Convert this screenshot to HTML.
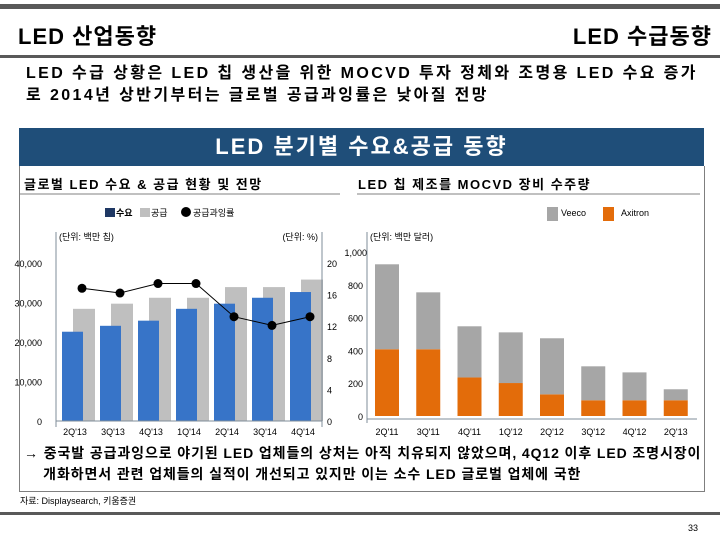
<!DOCTYPE html>
<html><head><meta charset="utf-8">
<style>
body{margin:0;width:720px;height:540px;background:#fff;position:relative;overflow:hidden;font-family:"Liberation Sans","Noto Sans CJK KR",sans-serif;}
.abs{position:absolute;white-space:nowrap;}
</style></head><body>
<div class="abs" style="left:0;top:4px;width:720px;height:5px;background:#595959"></div>
<div class="abs" style="left:18px;top:19px;font-size:22px;font-weight:bold;letter-spacing:1px;">LED 산업동향</div>
<div class="abs" style="right:8px;top:19px;font-size:22px;font-weight:bold;letter-spacing:1px;">LED 수급동향</div>
<div class="abs" style="left:0;top:55px;width:720px;height:3px;background:#595959"></div>
<div class="abs" style="left:26px;top:63px;font-size:16px;font-weight:bold;line-height:22px;letter-spacing:2.4px;">LED 수급 상황은 LED 칩 생산을 위한 MOCVD 투자 정체와 조명용 LED 수요 증가<br>로 2014년 상반기부터는 글로벌 공급과잉률은 낮아질 전망</div>
<div class="abs" style="left:19px;top:128px;width:685px;height:38px;background:#1f4e79;color:#fff;font-size:22px;font-weight:bold;letter-spacing:2px;text-align:center;line-height:38px;">LED 분기별 수요&amp;공급 동향</div>
<div class="abs" style="left:19px;top:166px;width:684px;height:325px;border:1px solid #7f7f7f;border-top:none;"></div>
<svg class="abs" style="left:0;top:0" width="720" height="540" font-family="Liberation Sans, Noto Sans CJK KR, sans-serif">
<text x="24" y="189" font-size="13" font-weight="bold" letter-spacing="1.5">글로벌 LED 수요 &amp; 공급 현황 및 전망</text>
<line x1="20" y1="194" x2="340" y2="194" stroke="#808080"/>
<text x="358" y="189" font-size="13" font-weight="bold" letter-spacing="1.5">LED 칩 제조를  MOCVD 장비 수주량</text>
<line x1="357" y1="194" x2="700" y2="194" stroke="#808080"/>
<g id="left"></g><g id="right"></g>
</svg>
<div class="abs" style="left:24px;top:443px;font-size:14px;font-weight:bold;line-height:21px;letter-spacing:0.9px;">→ 중국발 공급과잉으로 야기된 LED 업체들의 상처는 아직 치유되지 않았으며, 4Q12 이후 LED 조명시장이<br>&nbsp;&nbsp;&nbsp;&nbsp;개화하면서 관련 업체들의 실적이 개선되고 있지만 이는 소수 LED 글로벌 업체에 국한</div>
<div class="abs" style="left:20px;top:494px;font-size:9px;">자료: Displaysearch, 키움증권</div>
<div class="abs" style="left:0;top:512px;width:720px;height:3px;background:#595959"></div>
<div class="abs" style="left:688px;top:523px;font-size:9px;">33</div>
<script>
const leftCats=["2Q'13","3Q'13","4Q'13","1Q'14","2Q'14","3Q'14","4Q'14"];
const demand=[22600,24100,25400,28400,29700,31200,32650];
const supply=[28400,29700,31200,31200,33900,33900,35800];
const oversupply=[16.8,16.2,17.4,17.4,13.2,12.1,13.2];
const leftTicks=[0,10000,20000,30000,40000];
const rightTicks=[0,4,8,12,16,20];
const rightCats=["2Q'11","3Q'11","4Q'11","1Q'12","2Q'12","3Q'12","4Q'12","2Q'13"];
const axitron=[407,407,235,201,132,96,96,96];
const veeco=[518,347,312,309,342,207,170,67];
const mTicks=[0,200,400,600,800,1000];
const NS='http://www.w3.org/2000/svg';
function mk(p,t,a,txt){const e=document.createElementNS(NS,t);for(const k in a)e.setAttribute(k,a[k]);if(txt!==undefined)e.textContent=txt;p.appendChild(e);return e;}
const fmt=v=>v.toLocaleString('en-US');
const L=document.getElementById('left');
const x0=56,x1=322,y0=421,yTop=263;
const yL=v=>y0-(v/40000)*(y0-yTop), yR=v=>y0-(v/20)*(y0-yTop);
const gw=(x1-x0)/leftCats.length;
let e;
e=mk(L,'rect',{x:105,y:208,width:10,height:9,fill:'#1f3864'});

e=mk(L,'text',{x:116,y:216,'font-size':9,'font-weight':'bold'},'수요');

e=mk(L,'rect',{x:140,y:208,width:10,height:9,fill:'#bfbfbf'});

e=mk(L,'text',{x:151,y:216,'font-size':9},'공급');

e=mk(L,'circle',{cx:186,cy:212,r:5,fill:'#000'});

e=mk(L,'text',{x:193,y:216,'font-size':9},'공급과잉률');

e=mk(L,'text',{x:59,y:240,'font-size':9},'(단위: 백만 칩)');

e=mk(L,'text',{x:318,y:240,'font-size':9,'text-anchor':'end'},'(단위: %)');

leftTicks.forEach(v=>{e=mk(L,'text',{x:42,y:yL(v)+4,'font-size':9,'text-anchor':'end'},fmt(v));
});
rightTicks.forEach(v=>{e=mk(L,'text',{x:327,y:yR(v)+4,'font-size':9},String(v));
});
leftCats.forEach((c,i)=>{const gx=x0+i*gw;
e=mk(L,'rect',{x:gx+17,y:yL(supply[i]),width:22,height:y0-yL(supply[i]),fill:'#bfbfbf'});
});
leftCats.forEach((c,i)=>{const gx=x0+i*gw;
e=mk(L,'rect',{x:gx+6,y:yL(demand[i]),width:21,height:y0-yL(demand[i]),fill:'#3774c8'});

e=mk(L,'text',{x:gx+gw/2,y:435,'font-size':9,'text-anchor':'middle'},c);
});
e=mk(L,'polyline',{points:oversupply.map((v,i)=>(x0+i*gw+26)+','+yR(v)).join(' '),fill:'none',stroke:'#000','stroke-width':1});

oversupply.forEach((v,i)=>{e=mk(L,'circle',{cx:x0+i*gw+26,cy:yR(v),r:4.5,fill:'#000'});
});
e=mk(L,'line',{x1:x0,y1:232,x2:x0,y2:427,stroke:'#7f8c99'});

e=mk(L,'line',{x1:x1,y1:232,x2:x1,y2:427,stroke:'#7f8c99'});

e=mk(L,'line',{x1:x0,y1:y0,x2:x1,y2:y0,stroke:'#7f8c99'});

const R=document.getElementById('right');
const rx0=367,rx1=697,ry0=416,ryTop=252;
const yM=v=>ry0-(v/1000)*(ry0-ryTop);
const rgw=(rx1-rx0)/rightCats.length;
e=mk(R,'rect',{x:547,y:207,width:11,height:14,fill:'#a6a6a6'});

e=mk(R,'text',{x:561,y:216,'font-size':9},'Veeco');

e=mk(R,'rect',{x:603,y:207,width:11,height:14,fill:'#e36c0a'});

e=mk(R,'text',{x:621,y:216,'font-size':9},'Axitron');

e=mk(R,'text',{x:370,y:240,'font-size':9},'(단위: 백만 달러)');

mTicks.forEach(v=>{e=mk(R,'text',{x:v===1000?367:363,y:yM(v)+4,'font-size':9,'text-anchor':'end'},fmt(v));
});
rightCats.forEach((c,i)=>{const gx=rx0+i*rgw+8;
e=mk(R,'rect',{x:gx,y:yM(axitron[i]),width:24,height:ry0-yM(axitron[i]),fill:'#e36c0a'});

e=mk(R,'rect',{x:gx,y:yM(axitron[i]+veeco[i]),width:24,height:yM(axitron[i])-yM(axitron[i]+veeco[i]),fill:'#a6a6a6'});

e=mk(R,'text',{x:gx+12,y:435,'font-size':9,'text-anchor':'middle'},c);
});
e=mk(R,'line',{x1:rx0,y1:232,x2:rx0,y2:423,stroke:'#7f8c99'});

e=mk(R,'line',{x1:rx0,y1:ry0+3,x2:rx1,y2:ry0+3,stroke:'#7f8c99'});

</script>
</body></html>
